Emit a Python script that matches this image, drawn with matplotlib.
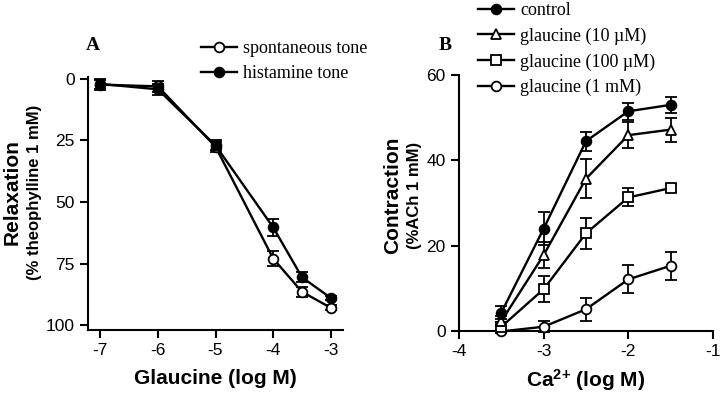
import numpy as np
import matplotlib
matplotlib.use('Agg')
import matplotlib.pyplot as plt

plt.rcParams['font.family'] = ['Liberation Sans', 'DejaVu Sans']
plt.rcParams['axes.unicode_minus'] = False
plt.rcParams['mathtext.fontset'] = 'custom'
plt.rcParams['mathtext.rm'] = 'Liberation Sans'
plt.rcParams['mathtext.bf'] = 'Liberation Sans:bold'

# panel A: relaxation vs glaucine
glaucine_logM = [-7, -6, -5, -4, -3.5, -3]
spont_tone = [2.3, 3.0, 27.5, 73.0, 86.5, 93.0]
spont_err = [2.0, 2.2, 2.0, 3.0, 2.0, 1.0]
hist_tone = [2.0, 4.2, 27.0, 60.3, 80.6, 89.0]
hist_err = [2.0, 2.2, 2.0, 3.5, 2.0, 1.0]

# panel B: contraction vs Ca2+
ca_logM = [-3.5, -3, -2.5, -2, -1.5]
control = [4.3, 24.0, 44.5, 51.5, 53.0]
control_err = [1.5, 3.8, 2.2, 2.0, 1.8]
gl_10uM = [2.3, 17.8, 35.7, 45.9, 47.2]
gl_10uM_err = [1.2, 3.0, 4.5, 3.1, 2.8]
gl_100uM = [1.0, 9.8, 22.9, 31.3, 33.5]
gl_100uM_err = [1.0, 3.0, 3.7, 2.1, 1.0]
gl_1mM = [-0.1, 1.0, 5.1, 12.1, 15.3]
gl_1mM_err = [0.3, 1.3, 2.7, 3.3, 3.3]

fig = plt.figure(figsize=(7.21, 4.04), dpi=100)
axA = fig.add_axes([88/721, 1-330/404, 255/721, 253/404])
axB = fig.add_axes([459/721, 1-331/404, 254/721, 256/404])

def series(ax, x, y, e, marker, filled, z):
	fc = 'black' if filled else 'white'
	c = ax.errorbar(x, y, yerr=e, color='black', lw=1.7, marker=marker, ms=7,
		mfc=fc, mec='black', mew=1.3, capsize=4.5, capthick=1.3, elinewidth=1.3,
		zorder=z, clip_on=False)
	return c[0]

hA = [series(axA, glaucine_logM, spont_tone, spont_err, 'o', False, 3),
	series(axA, glaucine_logM, hist_tone, hist_err, 'o', True, 4)]
labA = ['spontaneous tone', 'histamine tone']

hB = [series(axB, ca_logM, control, control_err, 'o', True, 6),
	series(axB, ca_logM, gl_10uM, gl_10uM_err, '^', False, 5),
	series(axB, ca_logM, gl_100uM, gl_100uM_err, 's', False, 4),
	series(axB, ca_logM, gl_1mM, gl_1mM_err, 'o', False, 3)]
labB = ['control', 'glaucine (10 µM)', 'glaucine (100 µM)', 'glaucine (1 mM)']

for ax in (axA, axB):
	for s in ('top', 'right'):
		ax.spines[s].set_visible(False)
	for s in ('left', 'bottom'):
		ax.spines[s].set_linewidth(1.5)
	ax.tick_params(direction='out', length=6, width=1.5, labelsize=12.5)

axA.set_xlim(-7.21, -2.79)
axA.set_ylim(102, -0.8)
axA.set_xticks([-7, -6, -5, -4, -3])
axA.set_yticks([0, 25, 50, 75, 100])
axA.set_xlabel('Glaucine (log M)', fontsize=15, fontweight='bold', labelpad=8)
fig.text(12/721, 1-192/404, 'Relaxation', rotation=90, fontsize=15,
	fontweight='bold', ha='center', va='center')
fig.text(35/721, 1-192/404, '(% theophylline 1 mM)', rotation=90, fontsize=12,
	fontweight='bold', ha='center', va='center')

axB.set_xlim(-4, -1)
axB.set_ylim(0, 60)
axB.set_xticks([-4, -3, -2, -1])
axB.set_yticks([0, 20, 40, 60])
axB.set_xlabel(r'$\mathbf{Ca^{2{+}}}$ (log M)', fontsize=15, fontweight='bold', labelpad=6)
fig.text(393/721, 1-195/404, 'Contraction', rotation=90, fontsize=15,
	fontweight='bold', ha='center', va='center')
fig.text(415/721, 1-195/404, '(%ACh 1 mM)', rotation=90, fontsize=12,
	fontweight='bold', ha='center', va='center')

fig.text(86/721, 1-46/404, 'A', fontsize=14, fontweight='bold',
	family='Liberation Serif', va='center')
fig.text(439/721, 1-46/404, 'B', fontsize=14, fontweight='bold',
	family='Liberation Serif', va='center')

legA = axA.legend(hA, labA, loc='upper left', bbox_to_anchor=(192/721, 1-31/404),
	bbox_transform=fig.transFigure, frameon=False, borderpad=0,
	handlelength=2.0, handletextpad=0.35, labelspacing=0.45,
	prop={'family': 'Liberation Serif', 'size': 13})
legB = axB.legend(hB, labB, loc='upper left', bbox_to_anchor=(469/721, 1+7/404),
	bbox_transform=fig.transFigure, frameon=False, borderpad=0,
	handlelength=2.0, handletextpad=0.35, labelspacing=0.47,
	prop={'family': 'Liberation Serif', 'size': 13})

fig.savefig('out.png', dpi=100)
